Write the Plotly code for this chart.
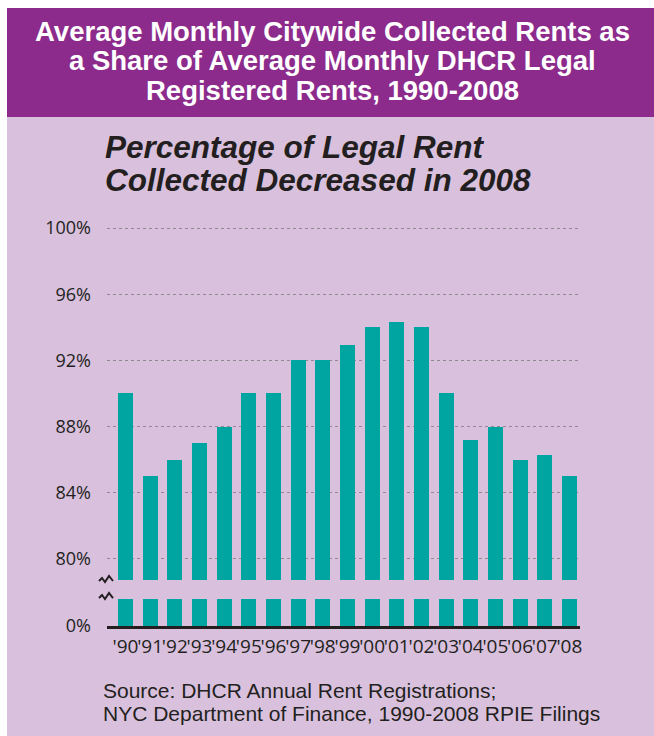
import plotly.graph_objects as go

# ---- data ----
years = [1990, 1991, 1992, 1993, 1994, 1995, 1996, 1997, 1998, 1999,
         2000, 2001, 2002, 2003, 2004, 2005, 2006, 2007, 2008]
share_pct = [90.0, 85.0, 86.0, 87.0, 88.0, 90.0, 90.0, 92.0, 92.0, 92.9,
             94.0, 94.3, 94.0, 90.0, 87.2, 88.0, 86.0, 86.3, 85.0]
year_labels = ["'90", "'91", "'92", "'93", "'94", "'95", "'96", "'97", "'98", "'99",
               "'00", "'01", "'02", "'03", "'04", "'05", "'06", "'07", "'08"]
upper_ticks = [80, 84, 88, 92, 96, 100]
upper_tick_text = ["80%", "84%", "88%", "92%", "96%", "100%"]
lower_ticks = [0]
lower_tick_text = ["0%"]

title_lines = ["Average Monthly Citywide Collected Rents as",
               "a Share of Average Monthly DHCR Legal",
               "Registered Rents, 1990-2008"]
subtitle_lines = ["Percentage of Legal Rent", "Collected Decreased in 2008"]
source_lines = ["Source: DHCR Annual Rent Registrations;",
                "NYC Department of Finance, 1990-2008 RPIE Filings"]

# ---- layout geometry (pixels) ----
W, H = 654, 736
L, R = 107, 580          # plot area left/right
TOP, BOT = 224, 626      # plot area top/bottom
PH = BOT - TOP
PW = R - L

def px(x):
    return (x - L) / PW

def py(y):
    return (BOT - y) / PH

BAR = "#00A5A1"
INK = "#231F20"
PURPLE = "#8C2B8C"
LAV = "#D9C1DE"

fig = go.Figure()
fig.add_trace(go.Bar(x=years, y=share_pct, xaxis="x", yaxis="y",
                     marker=dict(color=BAR, line=dict(width=0)), width=0.61,
                     hoverinfo="x+y", showlegend=False))
fig.add_trace(go.Bar(x=years, y=share_pct, xaxis="x", yaxis="y2",
                     marker=dict(color=BAR, line=dict(width=0)), width=0.61,
                     hoverinfo="skip", showlegend=False))

tickfont = dict(family="Open Sans", size=18, color=INK)

fig.update_layout(
    width=W, height=H,
    margin=dict(l=L, r=W - R, t=TOP, b=H - BOT, pad=0),
    paper_bgcolor=LAV, plot_bgcolor="rgba(0,0,0,0)",
    bargap=0,
    xaxis=dict(range=[1990 - 0.75, 2008 + 0.43], anchor="y2",
               tickmode="array", tickvals=years, ticktext=year_labels,
               tickfont=dict(family="Open Sans", size=19, color=INK),
               tickangle=0, showgrid=False, zeroline=False,
               showline=True, linecolor=INK, linewidth=3,
               ticks="", ticklabelstandoff=1),
    yaxis=dict(domain=[py(580), 1], range=[78.727, 100.242], anchor="x",
               tickmode="array", tickvals=upper_ticks, ticktext=upper_tick_text,
               tickfont=tickfont, showgrid=True, gridcolor="#8F8A90",
               griddash="dot", gridwidth=1, zeroline=False, showline=False,
               ticks="", ticklabelstandoff=15),
    yaxis2=dict(domain=[0, py(599)], range=[0, 1], anchor="x",
                tickmode="array", tickvals=lower_ticks, ticktext=lower_tick_text,
                tickfont=tickfont, showgrid=False, zeroline=False, showline=False,
                ticks="", ticklabelstandoff=15),
)

shapes = [
    dict(type="rect", xref="paper", yref="paper", x0=px(0), x1=px(7), y0=py(0), y1=py(H),
         fillcolor="white", line=dict(width=0), layer="below"),
    dict(type="rect", xref="paper", yref="paper", x0=px(0), x1=px(W), y0=py(0), y1=py(8),
         fillcolor="white", line=dict(width=0), layer="below"),
    dict(type="rect", xref="paper", yref="paper", x0=px(7), x1=px(W), y0=py(8), y1=py(117),
         fillcolor=PURPLE, line=dict(width=0), layer="below"),
]

def zigzag(y0):
    pts = [(99, y0 + 4), (102, y0 + 1), (105, y0 + 5), (109, y0 - 1), (113, y0 + 4)]
    d = "M " + " L ".join(f"{px(a):.5f},{py(b):.5f}" for a, b in pts)
    return dict(type="path", xref="paper", yref="paper", path=d,
                line=dict(color=INK, width=2))

shapes += [zigzag(577), zigzag(594)]
fig.update_layout(shapes=shapes)

for line, yc in zip(title_lines, [32, 61, 90]):
    fig.add_annotation(text="<b>" + line + "</b>", xref="paper", yref="paper",
                       x=px(332), y=py(yc), xanchor="center", yanchor="middle",
                       showarrow=False, align="center",
                       font=dict(family="Liberation Sans", size=27.5, color="white"))
for line, yc in zip(subtitle_lines, [147, 180]):
    fig.add_annotation(text="<b><i>" + line + "</i></b>", xref="paper", yref="paper",
                       x=px(103), y=py(yc), xanchor="left", yanchor="middle",
                       showarrow=False, align="left",
                       font=dict(family="Liberation Sans", size=31.5, color=INK))
for line, yc in zip(source_lines, [690, 713]):
    fig.add_annotation(text=line, xref="paper", yref="paper",
                       x=px(101), y=py(yc), xanchor="left", yanchor="middle",
                       showarrow=False, align="left",
                       font=dict(family="Liberation Sans", size=21, color=INK))

fig.write_html("out.html")
